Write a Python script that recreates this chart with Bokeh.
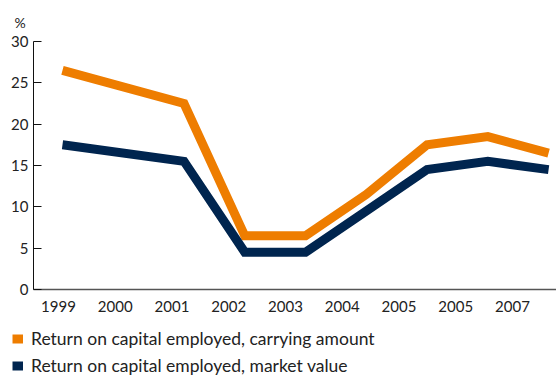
from bokeh.plotting import figure
from bokeh.models import Range1d, LinearAxis, FixedTicker, Legend, LegendItem
from bokeh.layouts import column
from bokeh.embed import file_html
from bokeh.resources import INLINE

# ---- data ----
years = ["1999", "2000", "2001", "2002", "2003", "2004", "2005", "2005", "2007"]
year_idx = [0, 2, 3, 4, 5, 6, 7, 8]  # positions of the plotted points (no 2000 point)
carrying = [26.5, 22.5, 6.5, 6.5, 11.5, 17.5, 18.5, 16.5]
market = [17.5, 15.5, 4.5, 4.5, 9.5, 14.5, 15.5, 14.5]
y_ticks = [0, 5, 10, 15, 20, 25, 30]
series_names = ["Return on capital employed, carrying amount",
                "Return on capital employed, market value"]

ORANGE = "#EE7D00"
NAVY = "#00254F"
TXT = "#222222"
FONT = "Lato"

p = figure(width=556, height=314, output_backend="svg", toolbar_location=None,
           x_range=Range1d(-0.477, 8.13), y_range=Range1d(0, 30),
           x_axis_location=None, min_border_left=33, min_border_right=0,
           min_border_top=39, min_border_bottom=0, title="%")
p.frame_align = False
p.outline_line_color = None
p.xgrid.visible = False
p.ygrid.visible = False
p.title.text_font = FONT
p.title.text_font_size = "14px"
p.title.text_font_style = "normal"
p.title.text_color = TXT
p.title.align = "left"
p.title.offset = -19
p.title.standoff = 22

# label axis (ticks spaced as in the original)
p.extra_x_ranges = {"lab": Range1d(-0.44, 8.775)}
xa = LinearAxis(x_range_name="lab", ticker=FixedTicker(ticks=list(range(len(years)))),
                major_label_overrides={i: y for i, y in enumerate(years)})
xa.major_tick_line_color = None
xa.minor_tick_line_color = None
xa.axis_line_color = "#555555"
xa.axis_line_width = 1.5
xa.major_label_text_font = FONT
xa.major_label_text_font_size = "15px"
xa.major_label_text_color = TXT
xa.major_label_standoff = 5
p.add_layout(xa, "below")

ya = p.yaxis[0]
ya.ticker = FixedTicker(ticks=y_ticks)
ya.major_tick_in = 8
ya.major_tick_out = 0
ya.minor_tick_line_color = None
ya.axis_line_color = "#111111"
ya.major_tick_line_color = "#111111"
ya.major_label_text_font = FONT
ya.major_label_text_font_size = "15px"
ya.major_label_text_color = TXT
ya.major_label_standoff = 5

p.line(year_idx, carrying, line_color=ORANGE, line_width=9, line_join="miter")
p.line(year_idx, market, line_color=NAVY, line_width=9, line_join="miter")

# legend strip below the chart (its own small figure; the series lie outside its view)
lg = figure(width=556, height=62, output_backend="svg", toolbar_location=None,
            x_range=Range1d(100, 101), y_range=Range1d(100, 101),
            x_axis_location=None, y_axis_location=None, min_border=0)
lg.frame_align = False
lg.outline_line_color = None
lg.xgrid.visible = False
lg.ygrid.visible = False
q1 = lg.line(year_idx, carrying, line_color=ORANGE, line_width=9)
q2 = lg.line(year_idx, market, line_color=NAVY, line_width=9)

legend = Legend(items=[
    LegendItem(label=series_names[0], renderers=[q1]),
    LegendItem(label=series_names[1], renderers=[q2]),
], location=(12, 0))
legend.glyph_width = 11
legend.glyph_height = 11
legend.label_text_font = FONT
legend.label_text_font_size = "17.5px"
legend.label_text_color = TXT
legend.label_standoff = 8
legend.label_height = 20
legend.spacing = 6
legend.padding = 0
legend.margin = 0
legend.border_line_color = None
legend.background_fill_alpha = 0
lg.add_layout(legend, "center")

open("out.html", "w").write(file_html(column(p, lg), INLINE))
